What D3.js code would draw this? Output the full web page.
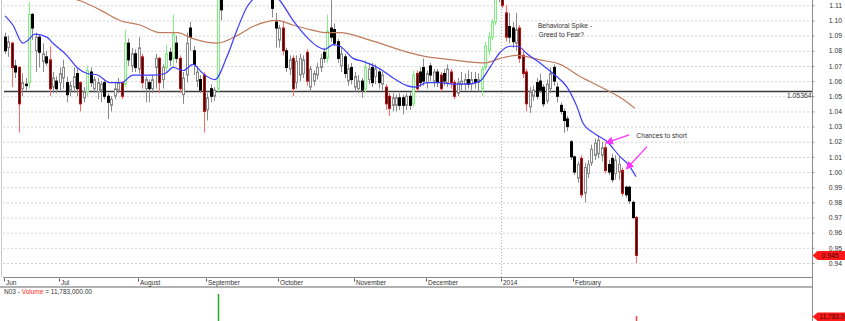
<!DOCTYPE html>
<html>
<head>
<meta charset="utf-8">
<script src="https://cdn.jsdelivr.net/npm/d3@7"></script>
<style>
  body { margin: 0; background: #fff; }
  svg { display: block; font-family: "Liberation Sans", Arial, sans-serif; }
</style>
</head>
<body>
<svg id="chart" width="845" height="321"></svg>
<script>
// daily bars, prices in thousandths: [open, high, low, close]
const bars = [
  [1089,1092,1078,1080],[1082,1090,1076,1086],[1085,1086,1056,1069],[1070,1074,1062,1066],[1069,1070,1026,1045],
  [1055,1065,1050,1059],[1058,1062,1054,1057],[1059,1112,1055,1104],[1104,1105,1087,1095],[1080,1092,1066,1089],
  [1089,1091,1069,1079],[1073,1085,1066,1078],[1076,1080,1070,1072],[1074,1083,1050,1055],[1056,1066,1052,1062],
  [1060,1063,1052,1055],[1059,1069,1054,1065],[1062,1074,1055,1069],[1059,1063,1046,1051],[1054,1060,1050,1057],
  [1056,1069,1052,1063],[1065,1068,1050,1055],[1059,1060,1040,1045],[1049,1056,1046,1053],[1053,1070,1050,1067],
  [1066,1069,1056,1059],[1055,1063,1052,1061],[1053,1062,1048,1059],[1054,1060,1046,1058],[1059,1061,1048,1050],
  [1050,1052,1035,1046],[1044,1050,1040,1048],[1050,1059,1048,1055],[1054,1062,1052,1059],[1059,1060,1048,1050],
  [1058,1094,1056,1085],[1085,1088,1070,1074],[1070,1082,1066,1078],[1078,1081,1066,1069],[1068,1089,1065,1082],
  [1076,1078,1055,1059],[1055,1063,1046,1061],[1059,1061,1046,1055],[1055,1064,1052,1061],[1069,1078,1055,1075],
  [1075,1076,1052,1059],[1061,1071,1055,1069],[1069,1084,1066,1078],[1079,1082,1070,1074],[1075,1104,1069,1091],
  [1085,1090,1072,1075],[1075,1077,1052,1055],[1051,1066,1045,1062],[1064,1092,1059,1085],[1095,1099,1080,1089],
  [1080,1083,1064,1071],[1060,1070,1056,1066],[1061,1064,1052,1054],[1064,1066,1026,1040],[1041,1052,1034,1049],
  [1055,1058,1046,1050],[1050,1056,1047,1054],[1055,1125,1052,1118],[1116,1122,1100,1107],[1114,1126,1114,1123],
  [1123,1132,1119,1129],[1129,1136,1124,1126],[1126,1134,1121,1131],[1131,1140,1127,1137],[1137,1142,1128,1130],
  [1130,1138,1125,1134],[1134,1139,1126,1128],[1128,1133,1120,1131],[1131,1135,1122,1124],[1124,1130,1118,1127],
  [1127,1131,1116,1119],[1120,1126,1115,1122],[1122,1124,1114,1116],[1116,1120,1102,1108],[1099,1105,1082,1095],
  [1087,1097,1082,1095],[1095,1099,1077,1080],[1080,1082,1066,1069],[1068,1077,1064,1074],[1075,1077,1050,1055],
  [1059,1077,1055,1073],[1064,1078,1060,1075],[1065,1077,1062,1074],[1079,1081,1057,1060],[1056,1070,1053,1068],
  [1060,1067,1057,1065],[1064,1072,1061,1069],[1069,1078,1066,1075],[1079,1082,1072,1075],[1075,1104,1072,1093],
  [1095,1115,1086,1089],[1094,1098,1083,1085],[1086,1088,1072,1075],[1070,1082,1066,1078],[1076,1078,1062,1065],
  [1060,1071,1057,1068],[1069,1072,1058,1061],[1056,1066,1053,1063],[1055,1064,1052,1060],[1060,1062,1049,1054],
  [1055,1074,1052,1069],[1061,1072,1058,1068],[1069,1072,1056,1059],[1063,1071,1058,1068],[1066,1068,1055,1059],
  [1058,1066,1054,1064],[1056,1058,1041,1045],[1050,1052,1037,1042],[1044,1052,1040,1049],[1044,1051,1040,1049],
  [1049,1052,1041,1044],[1049,1051,1038,1044],[1044,1052,1041,1050],[1050,1053,1041,1044],[1045,1067,1043,1064],
  [1065,1067,1053,1055],[1066,1069,1056,1059],[1069,1075,1057,1060],[1059,1067,1055,1065],[1070,1072,1060,1064],
  [1060,1068,1056,1066],[1066,1068,1056,1059],[1064,1066,1053,1055],[1065,1068,1057,1060],[1059,1071,1056,1068],
  [1066,1068,1055,1059],[1059,1061,1048,1050],[1052,1062,1050,1059],[1058,1066,1054,1060],[1058,1065,1054,1061],
  [1061,1067,1055,1058],[1058,1066,1054,1061],[1061,1066,1055,1059],[1059,1065,1053,1061],[1055,1070,1050,1068],
  [1069,1086,1067,1083],[1080,1092,1077,1089],[1089,1101,1087,1099],[1099,1116,1097,1114],[1115,1124,1112,1121],
  [1120,1125,1108,1110],[1105,1110,1086,1089],[1096,1105,1085,1089],[1095,1099,1082,1086],[1085,1105,1080,1094],
  [1095,1097,1072,1075],[1077,1080,1062,1065],[1066,1068,1040,1045],[1043,1056,1039,1053],[1050,1057,1047,1054],
  [1059,1062,1048,1050],[1060,1065,1052,1054],[1056,1058,1043,1045],[1047,1061,1045,1058],[1055,1069,1052,1065],
  [1069,1071,1057,1060],[1056,1059,1046,1050],[1044,1046,1038,1040],[1040,1042,1026,1034],[1035,1037,1027,1030],
  [1020,1021,1008,1010],[1010,1011,998,1000],[996,1007,993,1005],[1009,1011,983,985],[986,1006,980,1003],
  [999,1008,996,1005],[1006,1018,1004,1015],[1011,1022,1008,1019],[1012,1024,1009,1021],[1011,1020,1007,1016],
  [1016,1019,999,1001],[1005,1008,998,1000],[1009,1012,993,995],[999,1011,995,1008],[1000,1010,995,1005],
  [1001,1003,984,986],[990,991,983,985],[990,991,979,981],[980,981,969,970],[970,971,940,945]
];

// highlighted bars (by bar index)
const greenBars = [7, 24, 35, 47, 49, 62, 94, 105, 119, 139, 140, 141, 142, 143];
const redBars = [2, 4, 13, 22, 34, 40, 45, 51, 58, 81, 84, 88, 111, 112, 120, 127, 130, 131, 145, 146, 150, 151, 152, 168, 175, 180, 184];

// moving averages: [bar index, price in thousandths]
const fastMA = [
  [0,1103],[2.3,1097],[5.2,1085],[6.7,1087],[8.7,1091],[12.2,1089],[14,1085],[18,1077],[21,1069],[24,1065],
  [27,1064],[30.6,1059],[34,1059],[37.3,1064],[40.2,1064],[43.2,1064],[46.7,1065],[49,1069],[52,1067],[54.8,1071],
  [57.7,1065],[61.2,1061],[64.7,1076],[67.7,1094],[70.6,1109],[72.3,1114],[75.8,1121],[80.2,1113],[84,1100],
  [88,1089],[91,1083],[93.3,1081],[95.7,1084],[97.7,1083],[101.5,1075],[104.4,1073],[109.4,1068],[113.2,1062],
  [117.2,1057],[119.6,1056],[123,1059],[126.9,1059],[130.6,1058],[134.7,1058],[138.5,1060],[141.4,1069],
  [144.4,1079],[147.3,1083],[149.6,1083],[152.2,1078],[156,1072],[159.8,1065],[163.9,1056],[166.8,1043],
  [168.6,1032],[171.5,1026],[175.6,1020],[179.4,1010],[181.7,1005],[184,997]
];
const slowMA = [
  [0,1125],[10.2,1118],[21.9,1113],[27.7,1107],[33.5,1100],[39.4,1097],[45.2,1092],[50.2,1092],[54.8,1088],
  [61.8,1085],[67.7,1090],[72.3,1096],[79.3,1100],[84,1097],[89,1094],[93.3,1092],[97.7,1092],[106.4,1087],
  [116,1080],[121,1077],[130.6,1074],[140,1072],[144.4,1075],[149.3,1077],[156,1074],[161.9,1071],[167.7,1063],
  [175.6,1054],[180.2,1048],[183.7,1042]
];

const priceTicks = [0.94, 0.95, 0.96, 0.97, 0.98, 0.99, 1.00, 1.01, 1.02, 1.03, 1.04, 1.05, 1.06, 1.07, 1.08, 1.09, 1.10, 1.11];
const monthLabels = ["Jun", "Jul", "August", "September", "October", "November", "December", "2014", "February"];
const monthStarts = [0, 16, 39, 59, 80, 102, 123, 145, 166];
const levelPrice = 1.05364;

// only two volume bars reach into the visible strip: [bar index, shares]
const volumes = [[62, 20.6e6], [184, 11.783e6]];

const svg = d3.select("#chart");
const width = 845;
const height = 321;
const axisX = 812.5;
const priceBottom = 277;

const xScale = d3.scaleLinear().domain([0, bars.length - 1]).range([5, 636]);
const yScale = d3.scaleLinear().domain([0.94, 1.11]).range([263, 5.3]);
const volScale = d3.scaleLinear().domain([0, 20e6]).range([345.5, 295.5]);
const px = i => Math.round(xScale(i)) + 0.5;
const price = v => yScale(v / 1000);

svg.append("rect").attr("width", width).attr("height", height).attr("fill", "#fff");

const defs = svg.append("defs");
defs.append("clipPath").attr("id", "priceClip")
  .append("rect").attr("x", 0).attr("y", 0).attr("width", axisX).attr("height", priceBottom - 1);
defs.append("clipPath").attr("id", "volClip")
  .append("rect").attr("x", 0).attr("y", 288).attr("width", axisX).attr("height", 40);
defs.append("marker")
  .attr("id", "head")
  .attr("markerUnits", "userSpaceOnUse")
  .attr("viewBox", "0 0 10 10")
  .attr("refX", 9).attr("refY", 5)
  .attr("markerWidth", 8).attr("markerHeight", 8)
  .attr("orient", "auto")
  .append("path").attr("d", "M0,0L10,5L0,10z").attr("fill", "#ff33ff");

// left border of price pane
svg.append("line")
  .attr("x1", 1.5).attr("x2", 1.5).attr("y1", 0).attr("y2", priceBottom)
  .attr("stroke", "#c8c8c8");

// dotted horizontal grid
const grid = svg.append("g")
  .attr("transform", `translate(${axisX},0)`)
  .call(d3.axisLeft(yScale).tickValues(priceTicks).tickSize(axisX - 3).tickFormat(""));
grid.select(".domain").remove();
grid.selectAll("line")
  .attr("stroke", "#a8a8a8")
  .attr("stroke-dasharray", "1,3");

// year separator
svg.append("line")
  .attr("x1", px(monthStarts[7]) - 1).attr("x2", px(monthStarts[7]) - 1)
  .attr("y1", 0).attr("y2", priceBottom)
  .attr("stroke", "#b0b0b0")
  .attr("stroke-dasharray", "1,2");

// price axis labels on the right
const yAxisG = svg.append("g")
  .attr("transform", `translate(${axisX},0)`)
  .call(d3.axisRight(yScale).tickValues(priceTicks).tickSize(2).tickFormat(d3.format(".2f")));
yAxisG.select(".domain").remove();
yAxisG.selectAll("line").attr("stroke", "#999");
yAxisG.selectAll("text")
  .attr("x", 29.5)
  .attr("text-anchor", "end")
  .attr("fill", "#333")
  .style("font-size", "6.8px")
  .style("font-family", "Liberation Sans, Arial, sans-serif");

// level line
svg.append("line")
  .attr("x1", 4).attr("x2", axisX)
  .attr("y1", Math.round(yScale(levelPrice)) + 0.5).attr("y2", Math.round(yScale(levelPrice)) + 0.5)
  .attr("stroke", "#3a3a3a")
  .attr("stroke-width", 1.4);
svg.append("text")
  .attr("x", axisX - 1).attr("y", yScale(levelPrice) + 7)
  .attr("text-anchor", "end")
  .attr("fill", "#333")
  .style("font-size", "6.8px")
  .text(levelPrice.toFixed(5));

// candles
const tone = i => greenBars.includes(i) ? "g" : redBars.includes(i) ? "r" : "n";
const wickColor = { g: "#86f086", r: "#ff6a6a", n: "#8a8a8a" };
const candles = svg.append("g").attr("clip-path", "url(#priceClip)");

candles.selectAll(".wick")
  .data(bars)
  .join("line")
  .attr("class", "wick")
  .attr("x1", (d, i) => px(i)).attr("x2", (d, i) => px(i))
  .attr("y1", d => price(d[1])).attr("y2", d => price(d[2]))
  .attr("stroke", (d, i) => wickColor[tone(i)]);

candles.selectAll(".body")
  .data(bars)
  .join("rect")
  .attr("class", "body")
  .attr("x", (d, i) => px(i) - 1)
  .attr("width", 2)
  .attr("y", d => price(Math.max(d[0], d[3])))
  .attr("height", d => Math.max(1, price(Math.min(d[0], d[3])) - price(Math.max(d[0], d[3]))))
  .attr("fill", (d, i) => {
    const t = tone(i);
    if (t === "g") return "#fff";
    if (t === "r") return "#200000";
    return d[3] >= d[0] ? "#fff" : "#000";
  })
  .attr("stroke", (d, i) => {
    const t = tone(i);
    if (t === "g") return "#80ee80";
    if (t === "r") return "#b81010";
    return d[3] >= d[0] ? "#8a8a8a" : "#000";
  })
  .attr("stroke-width", 1);

// moving averages
const maLine = d3.line()
  .x(d => xScale(d[0]))
  .y(d => price(d[1]))
  .curve(d3.curveMonotoneX);

candles.append("path")
  .datum(slowMA)
  .attr("d", maLine)
  .attr("fill", "none")
  .attr("stroke", "#c07a5c")
  .attr("stroke-width", 1.2);

candles.append("path")
  .datum(fastMA)
  .attr("d", maLine)
  .attr("fill", "none")
  .attr("stroke", "#3c3cff")
  .attr("stroke-width", 1.2);

// annotations
svg.append("text")
  .attr("x", xScale(155.4)).attr("y", yScale(1.0948))
  .attr("fill", "#333").style("font-size", "6.7px")
  .text("Behavioral Spike -");
svg.append("text")
  .attr("x", xScale(155.6)).attr("y", yScale(1.0893))
  .attr("fill", "#333").style("font-size", "6.7px")
  .text("Greed to Fear?");
svg.append("text")
  .attr("x", xScale(184.1)).attr("y", yScale(1.0226))
  .attr("fill", "#333").style("font-size", "6.7px")
  .text("Chances to short");

const arrows = [
  [[182, 1.0245], [175.2, 1.0192]],
  [[187.2, 1.0168], [181.2, 1.0020]]
];
svg.selectAll(".arrow")
  .data(arrows)
  .join("line")
  .attr("class", "arrow")
  .attr("x1", d => xScale(d[0][0])).attr("y1", d => yScale(d[0][1]))
  .attr("x2", d => xScale(d[1][0])).attr("y2", d => yScale(d[1][1]))
  .attr("stroke", "#ff33ff")
  .attr("stroke-width", 1.3)
  .attr("marker-end", "url(#head)");

// last price tag
const lastClose = bars[bars.length - 1][3] / 1000;
const tagY = yScale(lastClose);
svg.append("path")
  .attr("d", `M${axisX},${tagY}L${axisX + 5},${tagY - 4.5}H${width}V${tagY + 4.5}H${axisX + 5}Z`)
  .attr("fill", "#ff1a1a");
svg.append("text")
  .attr("x", axisX + 9).attr("y", tagY + 2.5)
  .attr("fill", "#3a0000").style("font-size", "6.8px")
  .text(lastClose.toFixed(3));

// date strip
svg.append("line")
  .attr("x1", 3).attr("x2", axisX).attr("y1", priceBottom + 0.5).attr("y2", priceBottom + 0.5)
  .attr("stroke", "#888");
svg.append("line")
  .attr("x1", 0).attr("x2", axisX).attr("y1", 287).attr("y2", 287)
  .attr("stroke", "#999").attr("stroke-width", 1.5);

const months = svg.append("g");
months.selectAll("line")
  .data(monthStarts)
  .join("line")
  .attr("x1", d => px(d) - 1).attr("x2", d => px(d) - 1)
  .attr("y1", 278.5).attr("y2", 281.5)
  .attr("stroke", "#555");
months.selectAll("text")
  .data(monthStarts)
  .join("text")
  .attr("x", d => px(d) + 0.5)
  .attr("y", 285)
  .attr("fill", "#333")
  .style("font-size", "6.5px")
  .text((d, i) => monthLabels[i]);

// right axis line
svg.append("line")
  .attr("x1", axisX).attr("x2", axisX).attr("y1", 0).attr("y2", height)
  .attr("stroke", "#8c8c8c");

// volume pane
const volTitle = svg.append("text")
  .attr("x", 4).attr("y", 294)
  .attr("fill", "#333")
  .style("font-size", "6.5px");
volTitle.append("tspan").text("N03 - ");
volTitle.append("tspan").attr("fill", "#ff2a2a").text("Volume");
volTitle.append("tspan").text(" = 11,783,000.00");

svg.append("g")
  .attr("clip-path", "url(#volClip)")
  .selectAll("rect")
  .data(volumes)
  .join("rect")
  .attr("x", d => px(d[0]) - 0.75)
  .attr("width", 1.5)
  .attr("y", d => volScale(d[1]))
  .attr("height", d => volScale(0) - volScale(d[1]))
  .attr("fill", d => greenBars.includes(d[0]) ? "#22b022" : "#ff4040");

// volume value tag, sitting in the last rows of the window
const lastVol = volumes[volumes.length - 1][1];
const vTagY = height - 8.5;
svg.append("path")
  .attr("d", `M${axisX},${vTagY + 4.25}L${axisX + 5},${vTagY}H${width}V${height}H${axisX + 5}Z`)
  .attr("fill", "#ff1a1a");
svg.append("text")
  .attr("x", axisX + 7).attr("y", height - 2)
  .attr("fill", "#3a0000").style("font-size", "6.5px")
  .text(d3.format(",.1f")(lastVol / 1000));
</script>
</body>
</html>
